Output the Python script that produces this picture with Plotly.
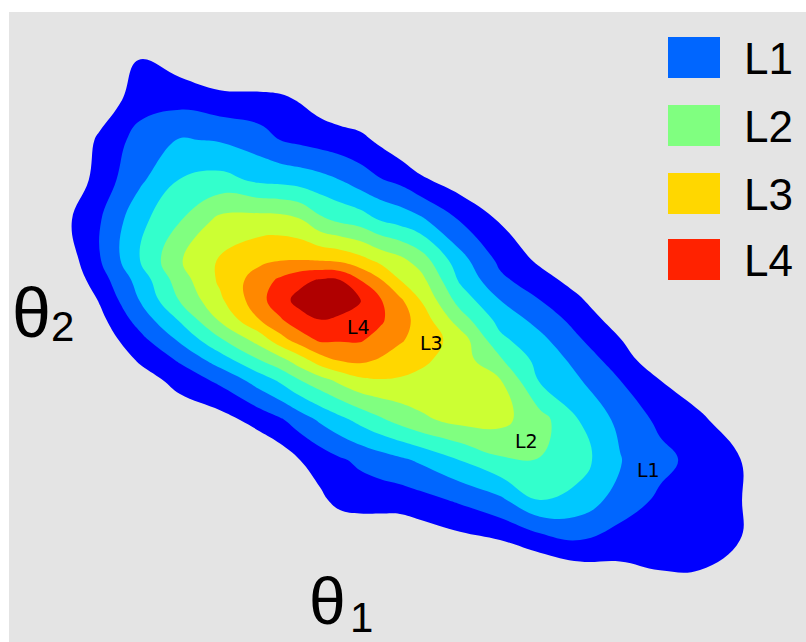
import plotly.graph_objects as go

# Grid nodes (same frame as the figure, y grows downward); finer spacing round the peak
x_nodes = [20, 60, 100, 140, 180, 220, 260, 280, 300, 320, 340, 360, 380, 400, 420,
           460, 500, 540, 580, 620, 660, 700, 740, 780]
y_nodes = [20, 60, 100, 140, 180, 220, 260, 280, 300, 320, 340, 360, 380, 420, 460, 500, 540, 580, 620]

# Density level read at each node (1 = outermost contour, 10 = innermost)
density = [
    [-1.5, -1.5, -1.2, -0.6, -0.8, -1.5, -1.5, -1.5, -1.5, -1.5, -1.5, -1.5, -1.5, -1.5, -1.5, -1.5, -1.5, -1.5, -1.5, -1.5, -1.5, -1.5, -1.5, -1.5],
    [-1.5, -1.4, -0.2, 1.05, 0.5, -0.1, -0.1, -0.1, -0.45, -0.85, -1.3, -1.5, -1.5, -1.5, -1.5, -1.5, -1.5, -1.5, -1.5, -1.5, -1.5, -1.5, -1.5, -1.5],
    [-1.5, -1.2, 0.3, 1.57, 1.66, 1.36, 1.29, 1.2, 0.93, 0.52, 0.24, 0.0, -0.4, -0.8, -1.2, -1.5, -1.5, -1.5, -1.5, -1.5, -1.5, -1.5, -1.5, -1.5],
    [-1.5, -0.3, 1.21, 2.4, 3.07, 2.92, 2.45, 2.0, 1.79, 1.6, 1.42, 1.27, 0.8, 0.28, -0.2, -0.9, -1.5, -1.5, -1.5, -1.5, -1.5, -1.5, -1.5, -1.5],
    [-1.5, -0.1, 1.43, 2.82, 4.04, 4.32, 3.8, 3.71, 3.56, 3.33, 3.0, 2.5, 2.07, 1.76, 1.2, 0.45, -0.3, -1.2, -1.5, -1.5, -1.5, -1.5, -1.5, -1.5],
    [-1.0, 0.6, 1.94, 3.72, 4.95, 6.27, 6.45, 6.4, 6.09, 5.22, 4.8, 4.53, 3.96, 3.63, 3.21, 1.95, 0.92, -0.3, -1.2, -1.5, -1.5, -1.5, -1.5, -1.5],
    [-1.4, 0.16, 1.95, 4.0, 5.92, 7.1, 7.77, 7.95, 8.0, 7.93, 7.77, 7.33, 6.73, 6.26, 5.55, 3.37, 1.77, 0.8, 0.0, -1.0, -1.5, -1.5, -1.5, -1.5],
    [-1.5, -0.05, 1.55, 3.41, 5.52, 7.17, 8.52, 9.17, 9.74, 10.09, 10.01, 9.0, 8.09, 7.0, 6.38, 3.85, 2.22, 1.4, 0.55, -0.6, -1.5, -1.5, -1.5, -1.5],
    [-1.5, -0.5, 1.1, 3.05, 5.08, 6.82, 8.67, 9.64, 10.32, 10.86, 10.6, 10.05, 9.1, 8.18, 7.0, 4.58, 3.0, 2.0, 1.11, 0.0, -1.2, -1.5, -1.5, -1.5],
    [-1.5, -1.0, 0.72, 2.41, 4.1, 6.11, 8.0, 8.87, 9.65, 9.98, 9.8, 9.74, 9.17, 8.42, 7.64, 5.5, 3.67, 2.65, 1.58, 0.55, -0.9, -1.5, -1.5, -1.5],
    [-1.5, -0.8, 0.4, 1.69, 3.15, 4.85, 6.43, 7.58, 8.48, 9.15, 9.08, 9.1, 8.65, 8.11, 7.64, 6.54, 4.25, 3.27, 2.07, 1.05, -0.1, -1.2, -1.5, -1.5],
    [-1.5, -1.2, -0.05, 1.14, 2.13, 3.5, 5.0, 5.67, 6.56, 7.55, 8.1, 8.23, 7.91, 7.57, 7.22, 6.5, 5.14, 3.63, 2.67, 1.43, 0.4, -0.9, -1.5, -1.5],
    [-1.5, -1.4, -0.6, 0.5, 1.38, 2.23, 3.5, 4.17, 5.0, 5.63, 6.27, 6.8, 6.95, 6.9, 6.75, 6.5, 6.05, 3.89, 3.04, 2.0, 1.0, 0.2, -1.0, -1.5],
    [-1.5, -1.5, -1.5, -0.6, 0.3, 0.6, 1.4, 1.86, 2.48, 3.14, 3.71, 4.28, 4.83, 5.33, 5.79, 6.3, 6.3, 5.38, 3.97, 2.73, 1.78, 1.23, 0.2, -0.9],
    [-1.5, -1.5, -1.5, -1.5, -1.2, -0.6, 0.0, 0.4, 1.0, 1.43, 1.87, 2.21, 2.51, 2.81, 3.15, 4.02, 4.86, 4.97, 4.4, 3.07, 2.3, 1.64, 1.04, -0.5],
    [-1.5, -1.5, -1.5, -1.5, -1.5, -1.5, -1.2, -0.6, 0.1, 0.8, 1.3, 1.39, 1.43, 1.47, 1.66, 2.15, 2.8, 4.0, 3.64, 2.55, 1.82, 1.45, 1.07, -0.3],
    [-1.5, -1.5, -1.5, -1.5, -1.5, -1.5, -1.5, -1.2, -0.6, -0.2, 0.1, 0.24, 0.16, 0.12, 0.32, 0.7, 1.0, 1.6, 2.0, 1.58, 1.47, 1.45, 1.0, -0.5],
    [-1.5, -1.5, -1.5, -1.5, -1.5, -1.5, -1.5, -1.5, -1.5, -1.5, -1.5, -1.5, -1.4, -1.35, -1.3, -0.9, -0.6, -0.3, 0.15, 0.5, 0.85, 0.85, 0.1, -1.0],
    [-1.5, -1.5, -1.5, -1.5, -1.5, -1.5, -1.5, -1.5, -1.5, -1.5, -1.5, -1.5, -1.5, -1.5, -1.5, -1.5, -1.5, -1.5, -1.4, -1.0, -0.7, -0.7, -1.0, -1.5],
]

# One fill colour per contour band, outermost first
level_colors = ["#0000ff", "#0066ff", "#00c8ff", "#33ffcc", "#80ff80",
                "#ccff33", "#ffd700", "#ff8800", "#ff2200", "#b00000"]

# Legend entries
legend_names = ["L1", "L2", "L3", "L4"]
legend_colors = ["#0066ff", "#80ff80", "#ffd700", "#ff2200"]

# Inline contour labels
inline_names = ["L1", "L2", "L3", "L4"]
inline_x = [648, 526, 431, 358]
inline_y = [470, 441, 343, 327]

BG = "#e4e4e4"

# Step colour scale: transparent below the first level, then one colour per band
band_colors = ["rgba(228,228,228,0)"] + level_colors
n = len(band_colors)
colorscale = []
for i, c in enumerate(band_colors):
    colorscale.append([i / n, c])
    colorscale.append([(i + 1) / n, c])

fig = go.Figure()
fig.add_trace(go.Contour(
    x=x_nodes, y=y_nodes, z=density,
    autocontour=False,
    contours=dict(start=1, end=10, size=1, coloring="fill", showlines=False),
    colorscale=colorscale, zmin=0.5, zmax=10.5,
    line=dict(width=0, smoothing=1.2),
    showscale=False, hoverinfo="skip",
))

annotations = []
for name, x, y in zip(inline_names, inline_x, inline_y):
    annotations.append(dict(x=x, y=y, xref="x", yref="y", text=name, showarrow=False,
                            font=dict(family="DejaVu Sans", size=19, color="black")))

# Legend: coloured blocks with labels
shapes = []
legend_top = [37, 105, 173, 239]
for name, col, top in zip(legend_names, legend_colors, legend_top):
    shapes.append(dict(type="rect", xref="x", yref="y", x0=668, x1=720, y0=top, y1=top + 41,
                       fillcolor=col, line=dict(width=0), layer="above"))
    annotations.append(dict(x=742, y=top + 21, xref="x", yref="y", text=name, showarrow=False,
                            xanchor="left", yanchor="middle",
                            font=dict(family="Liberation Sans", size=44, color="black")))

# Axis symbols
annotations += [
    dict(x=31, y=313, xref="x", yref="y", text="θ", showarrow=False, xanchor="center", yanchor="middle",
         font=dict(family="Liberation Sans", size=70, color="black")),
    dict(x=62, y=326, xref="x", yref="y", text="2", showarrow=False, xanchor="center", yanchor="middle",
         font=dict(family="Liberation Sans", size=42, color="black")),
    dict(x=327, y=601, xref="x", yref="y", text="θ", showarrow=False, xanchor="center", yanchor="middle",
         font=dict(family="Liberation Sans", size=66, color="black")),
    dict(x=361, y=617, xref="x", yref="y", text="1", showarrow=False, xanchor="center", yanchor="middle",
         font=dict(family="Liberation Sans", size=42, color="black")),
]

fig.update_layout(
    width=806, height=642,
    margin=dict(l=9, r=0, t=12, b=0),
    paper_bgcolor="white", plot_bgcolor=BG,
    xaxis=dict(range=[9, 806], visible=False, fixedrange=True),
    yaxis=dict(range=[642, 12], visible=False, fixedrange=True),
    shapes=shapes, annotations=annotations,
    showlegend=False,
)

fig.write_html("out.html")
